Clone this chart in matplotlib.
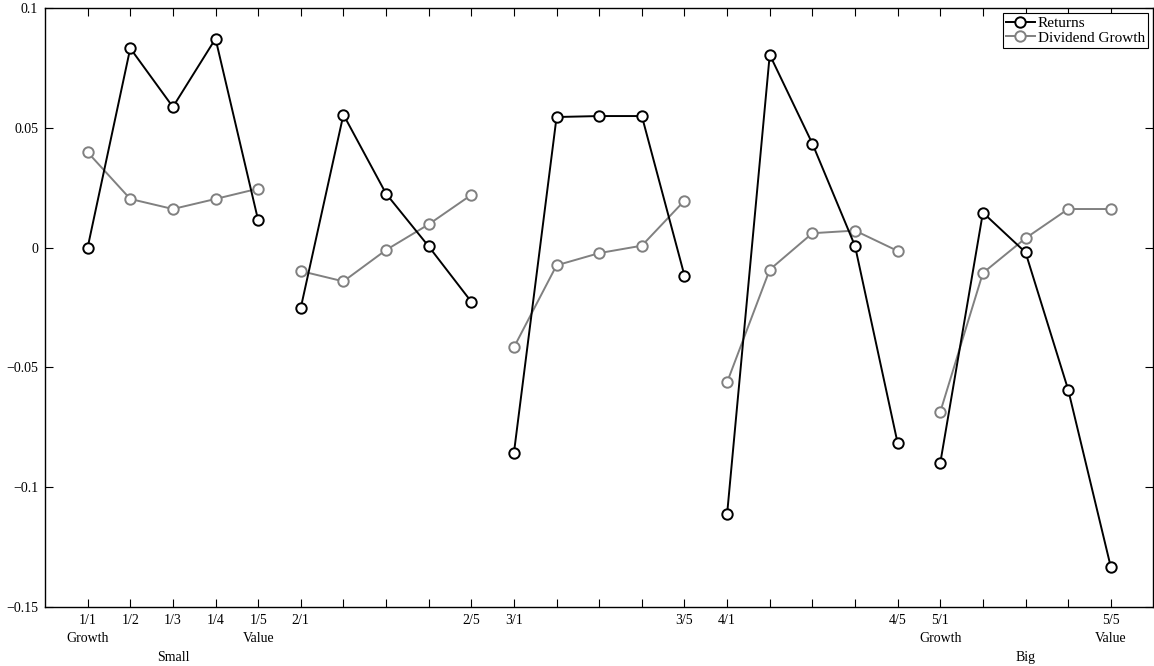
import matplotlib
matplotlib.use("Agg")
import matplotlib.pyplot as plt
import numpy as np

plt.rcParams['font.family'] = ['Liberation Serif', 'DejaVu Serif']
plt.rcParams['font.size'] = 10

portfolios = ["1/1", "1/2", "1/3", "1/4", "1/5",
              "2/1", "2/2", "2/3", "2/4", "2/5",
              "3/1", "3/2", "3/3", "3/4", "3/5",
              "4/1", "4/2", "4/3", "4/4", "4/5",
              "5/1", "5/2", "5/3", "5/4", "5/5"]

returns = [0.0000, 0.0832, 0.0587, 0.0872, 0.0114,
           -0.0251, 0.0555, 0.0225, 0.0005, -0.0226,
           -0.0856, 0.0545, 0.0549, 0.0549, -0.0117,
           -0.1112, 0.0805, 0.0434, 0.0007, -0.0816,
           -0.0899, 0.0146, -0.0020, -0.0593, -0.1333]

div_growth = [0.0398, 0.0203, 0.0161, 0.0203, 0.0246,
              -0.0098, -0.0141, -0.0010, 0.0097, 0.0220,
              -0.0416, -0.0074, -0.0023, 0.0008, 0.0196,
              -0.0562, -0.0092, 0.0060, 0.0071, -0.0014,
              -0.0686, -0.0106, 0.0039, 0.0161, 0.0161]

tick_labels = ["1/1\nGrowth", "1/2", "1/3\n\nSmall", "1/4", "1/5\nValue",
               "2/1", "", "", "", "2/5",
               "3/1", "", "", "", "3/5",
               "4/1", "", "", "", "4/5",
               "5/1\nGrowth", "", "\n\nBig", "", "5/5\nValue"]

yticks = [-0.15, -0.1, -0.05, 0, 0.05, 0.1]
ytick_labels = ["\u22120.15", "\u22120.1", "\u22120.05", "0", "0.05", "0.1"]

fig = plt.figure(figsize=(11.54, 6.66), dpi=100)
ax = fig.add_axes([0.039, 0.0886, 0.9605, 0.8994])

x = np.arange(1, len(portfolios) + 1)
ret = np.array(returns)
dg = np.array(div_growth)

for g in range(5):
    sl = slice(g * 5, g * 5 + 5)
    ax.plot(x[sl], ret[sl], color='black', lw=1.4, marker='o', ms=7.5,
            mfc='white', mec='black', mew=1.4,
            label='Returns' if g == 0 else None, zorder=3)
    ax.plot(x[sl], dg[sl], color='#808080', lw=1.4, marker='o', ms=7.5,
            mfc='white', mec='#808080', mew=1.4,
            label='Dividend Growth' if g == 0 else None, zorder=2)

ax.set_xlim(0, 26)
ax.set_ylim(-0.15, 0.1)
ax.set_xticks(x)
ax.set_xticklabels(tick_labels, linespacing=1.55)
ax.set_yticks(yticks)
ax.set_yticklabels(ytick_labels)
ax.tick_params(direction='in', top=True, right=True, length=6, width=0.8, pad=5)
for s in ax.spines.values():
    s.set_linewidth(1.0)

leg = ax.legend(loc='upper right', fontsize=11, handlelength=1.9,
                handletextpad=0.2, borderpad=0.2, labelspacing=0.05,
                borderaxespad=0.35, fancybox=False, framealpha=1,
                edgecolor='black')
leg.get_frame().set_linewidth(0.8)

fig.savefig("out.png", dpi=100)
